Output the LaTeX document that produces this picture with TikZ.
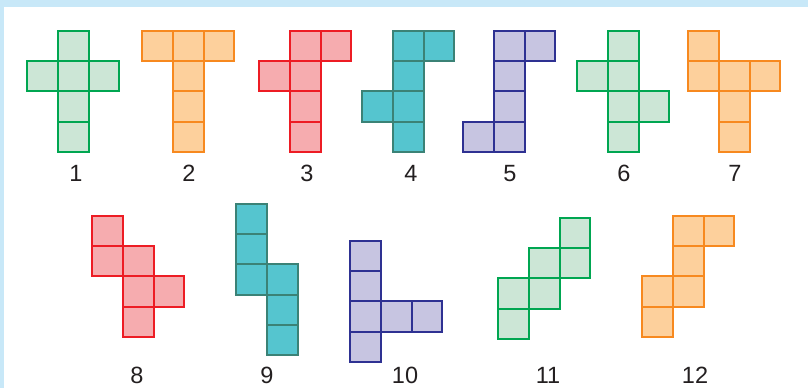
\documentclass[tikz,border=0pt]{standalone}
\usepackage{fontspec}
\setmainfont{Liberation Sans}
\usepackage{tikz}
\usetikzlibrary{positioning,calc}
\usepackage{xcolor}
\definecolor{frame}{HTML}{C8E8F8}
\definecolor{ink}{HTML}{231F20}
\definecolor{green}{HTML}{00A651}
\definecolor{greenFill}{HTML}{CCE6D6}
\definecolor{orange}{HTML}{F7891F}
\definecolor{orangeFill}{HTML}{FDD09C}
\definecolor{red}{HTML}{ED1C24}
\definecolor{redFill}{HTML}{F6ACAF}
\definecolor{teal}{HTML}{3B8276}
\definecolor{tealFill}{HTML}{55C5CF}
\definecolor{purple}{HTML}{2E3192}
\definecolor{purpleFill}{HTML}{C7C5E1}
\tikzset{
  cell/.style={line width=2pt, line join=miter},
  number/.style={font=\fontsize{23.5}{28}\selectfont, text=ink, inner sep=0pt},
}
% one net: origin x, origin y, colour, list of col/row
\newcommand{\net}[4]{%
  \begin{scope}[shift={(#1,#2)}]
    \foreach \c/\r in {#4} \fill[#3Fill] (\c*30.8,\r*30.2) rectangle ++(30.8,30.2);
    \foreach \c/\r in {#4} \draw[cell, draw=#3] (\c*30.8,\r*30.2) rectangle ++(30.8,30.2);
  \end{scope}}

\begin{document}
\begin{tikzpicture}[x=1pt,y=-1pt]
  \useasboundingbox (0,0) rectangle (808,388);
  \fill[frame] (0,0) rectangle (808,388);
  \fill[white] (4,7) rectangle (808,388);

  % first row
  \net{27}{31}{green}{1/0,0/1,1/1,2/1,1/2,1/3}
  \net{142}{31}{orange}{0/0,1/0,2/0,1/1,1/2,1/3}
  \net{259}{31}{red}{1/0,2/0,0/1,1/1,1/2,1/3}
  \net{362}{31}{teal}{1/0,2/0,1/1,0/2,1/2,1/3}
  \net{463}{31}{purple}{1/0,2/0,1/1,1/2,0/3,1/3}
  \net{577}{31}{green}{1/0,0/1,1/1,1/2,2/2,1/3}
  \net{688}{31}{orange}{0/0,0/1,1/1,2/1,1/2,1/3}

  % second row
  \net{92}{216}{red}{0/0,0/1,1/1,1/2,2/2,1/3}
  \net{236}{204}{teal}{0/0,0/1,0/2,1/2,1/3,1/4}
  \net{350}{241}{purple}{0/0,0/1,0/2,1/2,2/2,0/3}
  \net{498}{218}{green}{2/0,1/1,2/1,0/2,1/2,0/3}
  \net{642}{216}{orange}{1/0,2/0,1/1,0/2,1/2,0/3}

  \node[number] (n1) at (76,173.5) {1};
  \node[number] (n2) at (189,173.5) {2};
  \node[number] (n3) at (307,173.5) {3};
  \node[number] (n4) at (411,173.5) {4};
  \node[number] (n5) at (510,173.5) {5};
  \node[number] (n6) at (624,173.5) {6};
  \node[number] (n7) at (735,173.5) {7};
  \node[number] (n8) at (137,375.5) {8};
  \node[number] (n9) at (267,375.5) {9};
  \node[number] (n10) at (405,375.5) {10};
  \node[number] (n11) at (548,375.5) {11};
  \node[number] (n12) at (695,375.5) {12};
\end{tikzpicture}
\end{document}
